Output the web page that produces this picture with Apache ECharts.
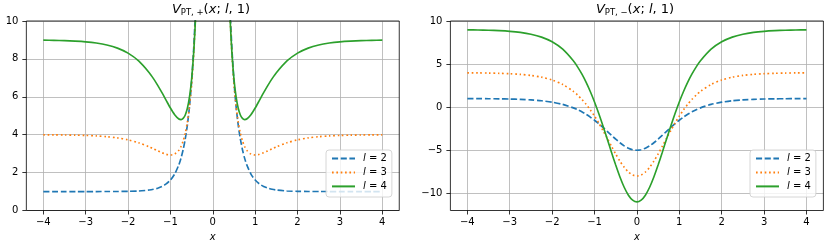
<!DOCTYPE html>
<html><head><meta charset="utf-8">
<script src="https://cdn.jsdelivr.net/npm/echarts@6/dist/echarts.min.js"></script>
<style>html,body{margin:0;padding:0;background:#fff}#c{width:830px;height:249px}</style>
</head><body><div id="c"></div>
<script>
// ---- data ----
const xTicks = [-4, -3, -2, -1, 0, 1, 2, 3, 4];
const yTicksPlus = [0, 2, 4, 6, 8, 10];
const yTicksMinus = [-10, -5, 0, 5, 10];
const seriesNames = ['l = 2', 'l = 3', 'l = 4'];

const xsPlus = [-4,-3.75,-3.5,-3.25,-3,-2.75,-2.5,-2.25,-2,-1.75,-1.5,-1.4,-1.3,-1.2,-1.1,-1,-0.9,-0.8,-0.75,-0.7,-0.65,-0.6,-0.55,-0.5,-0.45,-0.42,-0.4,-0.35,-0.3,0,0.3,0.35,0.4,0.42,0.45,0.5,0.55,0.6,0.65,0.7,0.75,0.8,0.9,1,1.1,1.2,1.3,1.4,1.5,1.75,2,2.25,2.5,2.75,3,3.25,3.5,3.75,4];
const vPlus2 = [1.000,1.000,1.000,1.000,1.000,1.000,1.001,1.004,1.011,1.029,1.080,1.119,1.179,1.268,1.403,1.608,1.924,2.418,2.765,3.206,3.774,4.511,5.484,6.793,8.592,10.009,11.143,14.902,20.737,null,20.737,14.902,11.143,10.009,8.592,6.793,5.484,4.511,3.774,3.206,2.765,2.418,1.924,1.608,1.403,1.268,1.179,1.119,1.080,1.029,1.011,1.004,1.001,1.000,1.000,1.000,1.000,1.000,1.000];
const vPlus3 = [3.995,3.991,3.985,3.976,3.961,3.936,3.895,3.830,3.728,3.574,3.357,3.255,3.149,3.048,2.966,2.928,2.977,3.181,3.378,3.667,4.081,4.665,5.487,6.647,8.304,9.639,10.720,14.355,20.076,null,20.076,14.355,10.720,9.639,8.304,6.647,5.487,4.665,4.081,3.667,3.378,3.181,2.977,2.928,2.966,3.048,3.149,3.255,3.357,3.574,3.728,3.830,3.895,3.936,3.961,3.976,3.985,3.991,3.995];
const vPlus4 = [8.987,8.978,8.964,8.940,8.902,8.838,8.736,8.569,8.304,7.891,7.273,6.958,6.604,6.218,5.811,5.408,5.055,4.827,4.799,4.859,5.042,5.395,5.990,6.928,8.372,9.585,10.586,14.034,19.585,null,19.585,14.034,10.586,9.585,8.372,6.928,5.990,5.395,5.042,4.859,4.799,4.827,5.055,5.408,5.811,6.218,6.604,6.958,7.273,7.891,8.304,8.569,8.736,8.838,8.902,8.940,8.964,8.978,8.987];

const xsMinus = [-4,-3.75,-3.5,-3.25,-3,-2.75,-2.5,-2.25,-2,-1.75,-1.5,-1.4,-1.3,-1.2,-1.1,-1,-0.9,-0.8,-0.7,-0.6,-0.5,-0.4,-0.3,-0.2,-0.1,0,0.1,0.2,0.3,0.4,0.5,0.6,0.7,0.8,0.9,1,1.1,1.2,1.3,1.4,1.5,1.75,2,2.25,2.5,2.75,3,3.25,3.5,3.75,4];
const vMinus2 = [0.992,0.987,0.978,0.964,0.941,0.903,0.840,0.739,0.576,0.317,-0.084,-0.297,-0.545,-0.830,-1.155,-1.520,-1.922,-2.354,-2.808,-3.269,-3.719,-4.134,-4.491,-4.766,-4.940,-5.000,-4.940,-4.766,-4.491,-4.134,-3.719,-3.269,-2.808,-2.354,-1.922,-1.520,-1.155,-0.830,-0.545,-0.297,-0.084,0.317,0.576,0.739,0.840,0.903,0.941,0.964,0.978,0.987,0.992];
const vMinus3 = [3.984,3.973,3.956,3.928,3.882,3.805,3.681,3.478,3.152,2.634,1.832,1.406,0.911,0.340,-0.310,-1.040,-1.843,-2.709,-3.617,-4.539,-5.437,-6.268,-6.982,-7.533,-7.881,-8.000,-7.881,-7.533,-6.982,-6.268,-5.437,-4.539,-3.617,-2.709,-1.843,-1.040,-0.310,0.340,0.911,1.406,1.832,2.634,3.152,3.478,3.681,3.805,3.882,3.928,3.956,3.973,3.984];
const vMinus4 = [8.973,8.956,8.927,8.880,8.803,8.676,8.468,8.131,7.587,6.724,5.386,4.677,3.851,2.900,1.816,0.601,-0.738,-2.181,-3.695,-5.232,-6.729,-8.113,-9.303,-10.221,-10.801,-11.000,-10.801,-10.221,-9.303,-8.113,-6.729,-5.232,-3.695,-2.181,-0.738,0.601,1.816,2.900,3.851,4.677,5.386,6.724,7.587,8.131,8.468,8.676,8.803,8.880,8.927,8.956,8.973];

// ---- styling ----
const FONT = 'DejaVu Sans';
const COLORS = ['#1f77b4', '#ff7f0e', '#2ca02c'];
const DASHES = [[6.1, 2.6], [1.65, 2.7], 'solid'];
const LW = 1.65;
const fmtMinus = v => String(v).replace('-', '\u2212');

function makeX(idx) {
  return {
    type: 'value', gridIndex: idx, min: -4.4, max: 4.4,
    name: 'x', nameLocation: 'middle', nameGap: 20,
    nameTextStyle: {fontFamily: FONT, fontSize: 10, fontStyle: 'italic', color: '#000'},
    axisLine: {show: false, onZero: false},
    axisTick: {show: true, inside: false, length: 4, customValues: xTicks, lineStyle: {color: '#000', width: 0.8}},
    axisLabel: {customValues: xTicks, formatter: fmtMinus, margin: 7, fontFamily: FONT, fontSize: 10, color: '#000'},
    splitLine: {show: true, lineStyle: {color: '#b0b0b0', width: 0.8}}
  };
}
function makeY(idx, min, max, ticks) {
  return {
    type: 'value', gridIndex: idx, min: min, max: max,
    axisLine: {show: false, onZero: false},
    axisTick: {show: true, inside: false, length: 4, customValues: ticks, lineStyle: {color: '#000', width: 0.8}},
    axisLabel: {customValues: ticks, formatter: fmtMinus, margin: 8, fontFamily: FONT, fontSize: 10, color: '#000'},
    splitLine: {show: true, lineStyle: {color: '#b0b0b0', width: 0.8}}
  };
}
function makeSeries(name, i, gi, xs, ys) {
  return {
    type: 'line', name: name, xAxisIndex: gi, yAxisIndex: gi,
    data: xs.map((x, k) => [x, ys[k] == null ? '-' : ys[k]]),
    showSymbol: false, symbol: 'none', connectNulls: false, clip: true, silent: true,
    smooth: 0.25,
    lineStyle: {color: COLORS[i], width: LW, type: DASHES[i], cap: 'butt'},
    itemStyle: {color: COLORS[i]},
    emphasis: {disabled: true}, z: 2
  };
}
const titleRich = {
  v: {fontFamily: FONT, fontSize: 13, fontStyle: 'italic', fontWeight: 'normal', color: '#000', lineHeight: 16},
  n: {fontFamily: FONT, fontSize: 13, fontWeight: 'normal', color: '#000', lineHeight: 16},
  s: {fontFamily: FONT, fontSize: 8.5, fontWeight: 'normal', color: '#000', lineHeight: 16, padding: [6, 0, 0, 0]}
};
function makeLegend(left) {
  return {
    left: left, top: 150, orient: 'vertical', data: seriesNames, selectedMode: false,
    backgroundColor: 'rgba(255,255,255,0.8)', borderColor: '#cccccc', borderWidth: 0.8, borderRadius: 3,
    padding: [3, 5, 5, 5], itemWidth: 23, itemHeight: 14, itemGap: 2.7, z: 5,
    itemStyle: {color: 'rgba(0,0,0,0)', borderColor: 'rgba(0,0,0,0)', borderWidth: 0, opacity: 0},
    formatter: n => n.replace('l', '{i|l}'),
    textStyle: {fontFamily: FONT, fontSize: 10, color: '#000', padding: [0, 0, 0, 3],
      rich: {i: {fontFamily: FONT, fontSize: 10, fontStyle: 'italic', color: '#000'}}}
  };
}

const chart = echarts.init(document.getElementById('c'), null, {renderer: 'canvas'});
chart.setOption({
  animation: false,
  backgroundColor: '#fff',
  title: [
    {text: '{v|V}{s|PT, +}{n|(}{v|x}{n|; }{v|l}{n|, 1)}', left: 211, top: 2, textAlign: 'center', padding: 0, textStyle: {fontWeight: 'normal', rich: titleRich}},
    {text: '{v|V}{s|PT, \u2212}{n|(}{v|x}{n|; }{v|l}{n|, 1)}', left: 635, top: 2, textAlign: 'center', padding: 0, textStyle: {fontWeight: 'normal', rich: titleRich}}
  ],
  grid: [
    {left: 26.35, top: 21, width: 372.9, height: 189.5, show: true, borderColor: '#000', borderWidth: 0.8, z: 3, containLabel: false},
    {left: 450.4, top: 21, width: 373, height: 189.5, show: true, borderColor: '#000', borderWidth: 0.8, z: 3, containLabel: false}
  ],
  xAxis: [makeX(0), makeX(1)],
  yAxis: [makeY(0, 0, 10, yTicksPlus), makeY(1, -12, 10, yTicksMinus)],
  legend: [makeLegend(326), makeLegend(750)],
  series: [
    makeSeries(seriesNames[0], 0, 0, xsPlus, vPlus2),
    makeSeries(seriesNames[1], 1, 0, xsPlus, vPlus3),
    makeSeries(seriesNames[2], 2, 0, xsPlus, vPlus4),
    makeSeries(seriesNames[0], 0, 1, xsMinus, vMinus2),
    makeSeries(seriesNames[1], 1, 1, xsMinus, vMinus3),
    makeSeries(seriesNames[2], 2, 1, xsMinus, vMinus4)
  ]
});
</script>
</body></html>
